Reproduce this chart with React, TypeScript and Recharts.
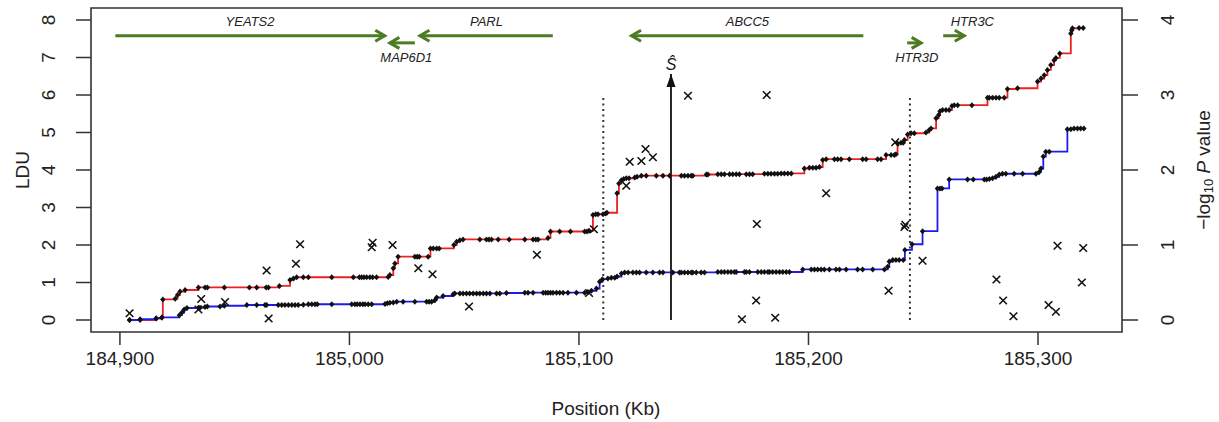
import React from 'react';
import { ComposedChart, Line, Scatter, XAxis, YAxis, ReferenceLine, ReferenceArea } from 'recharts';

// ---- data ----
const redPos = [184904.2,184908.8,184915.8,184918.3,184918.7,184924.1,184925.1,184926.2,184928.4,184934.2,184937.1,184938.1,184945.5,184956.4,184959.6,184963.7,184964.7,184969.5,184974.1,184975.6,184977.0,184979.9,184982.1,184992.3,185001.7,185004.3,185005.3,185006.3,185007.5,185008.9,185010.1,185011.8,185016.9,185017.6,185019.1,185019.8,185021.2,185028.5,185029.5,185030.4,185034.3,185035.3,185036.5,185038.0,185039.1,185045.5,185046.7,185048.1,185049.5,185056.8,185059.7,185060.8,185061.9,185064.8,185069.6,185076.4,185080.0,185081.2,185082.2,185086.5,185087.6,185091.6,185096.3,185102.5,185103.5,185104.4,185106.1,185107.3,185108.3,185110.5,185111.6,185112.2,185116.6,185117.4,185118.5,185119.5,185120.6,185121.8,185124.3,185125.3,185127.2,185129.3,185133.7,185136.6,185139.5,185144.6,185146.0,185147.5,185148.9,185149.6,185155.5,185156.2,185160.5,185162.0,185163.4,185165.6,185167.0,185168.5,185169.9,185172.9,185174.3,185175.7,185180.8,185182.3,185183.7,185185.2,185186.6,185188.1,185189.5,185191.0,185192.5,185198.2,185200.4,185201.9,185203.3,185204.8,185206.2,185207.7,185211.3,185212.7,185214.2,185217.8,185223.6,185225.1,185230.1,185231.6,185233.8,185236.0,185237.4,185238.1,185238.8,185240.3,185241.3,185241.8,185243.2,185244.7,185246.1,185251.2,185252.6,185253.4,185255.6,185256.7,185257.3,185258.4,185259.9,185261.3,185262.5,185263.5,185265.0,185271.2,185278.0,185278.8,185280.2,185281.7,185283.1,185285.3,185286.7,185291.1,185299.8,185301.3,185302.7,185304.1,185305.6,185307.0,185307.8,185309.5,185314.3,185314.7,185315.0,185317.9,185319.7];
const redLdu = [0,0,0.04,0.07,0.55,0.57,0.67,0.76,0.80,0.87,0.87,0.87,0.87,0.87,0.87,0.87,0.87,0.91,1.07,1.11,1.14,1.14,1.14,1.14,1.14,1.14,1.14,1.14,1.14,1.14,1.14,1.14,1.15,1.20,1.38,1.51,1.69,1.69,1.69,1.69,1.69,1.91,1.91,1.91,1.91,2.00,2.09,2.13,2.15,2.15,2.15,2.15,2.15,2.15,2.15,2.15,2.15,2.15,2.15,2.19,2.36,2.36,2.36,2.36,2.36,2.38,2.80,2.82,2.82,2.82,2.84,2.86,3.38,3.64,3.73,3.76,3.78,3.78,3.80,3.82,3.85,3.85,3.85,3.85,3.85,3.85,3.85,3.85,3.85,3.85,3.88,3.88,3.89,3.89,3.89,3.89,3.89,3.89,3.89,3.89,3.89,3.89,3.90,3.90,3.90,3.90,3.90,3.91,3.91,3.91,3.91,4.04,4.06,4.06,4.06,4.08,4.27,4.29,4.29,4.29,4.29,4.29,4.29,4.29,4.29,4.29,4.40,4.40,4.40,4.42,4.71,4.73,4.73,4.80,4.95,4.98,4.98,5.00,5.07,5.11,5.38,5.47,5.57,5.60,5.60,5.60,5.71,5.73,5.73,5.73,5.93,5.93,5.93,5.93,5.93,5.93,6.16,6.18,6.36,6.44,6.53,6.67,6.80,6.93,6.99,7.11,7.64,7.73,7.78,7.79,7.79];

const bluePos = [184904.2,184908.8,184915.8,184918.3,184925.9,184927.0,184928.0,184929.2,184934.2,184934.9,184937.1,184938.1,184943.6,184945.5,184955.3,184959.6,184963.2,184963.9,184969.0,184970.5,184971.9,184973.4,184974.9,184976.3,184977.7,184979.9,184982.1,184983.6,184985.0,184986.0,184992.3,185001.0,185002.4,185003.4,185004.6,185005.8,185006.8,185008.2,185009.7,185015.5,185016.5,185017.6,185019.1,185020.6,185023.4,185028.5,185033.6,185034.7,185035.8,185037.2,185038.0,185040.8,185045.2,185045.9,185048.1,185049.5,185051.0,185052.4,185053.9,185055.4,185056.8,185058.3,185059.7,185061.2,185064.1,185065.5,185068.4,185076.4,185077.8,185080.0,185084.4,185085.5,185086.5,185087.6,185088.7,185090.2,185091.6,185093.1,185095.2,185098.9,185102.5,185103.9,185105.4,185107.6,185109.0,185110.2,185112.6,185114.1,185115.6,185116.6,185118.5,185119.9,185121.4,185123.5,185125.0,185126.4,185129.3,185132.2,185135.1,185136.6,185140.9,185143.8,185144.6,185146.0,185147.5,185148.9,185149.6,185151.1,185153.2,185154.7,185160.5,185162.0,185163.4,185164.9,185166.3,185167.7,185168.5,185172.1,185172.9,185174.3,185177.9,185179.4,185180.8,185182.3,185183.0,185184.4,185185.9,185187.4,185188.8,185190.3,185191.7,185197.5,185201.2,185202.6,185204.0,185205.5,185206.9,185209.1,185212.0,185213.5,185216.4,185221.4,185223.6,185228.0,185233.1,185234.5,185235.2,185236.7,185238.1,185239.5,185241.3,185242.0,185245.1,185249.7,185256.2,185257.3,185258.2,185261.3,185269.3,185271.8,185276.6,185277.6,185278.8,185280.2,185281.7,185283.1,185284.5,185286.0,185289.6,185293.3,185299.1,185300.5,185301.3,185302.3,185303.4,185304.9,185312.8,185314.3,185315.7,185317.2,185318.6,185320.0];
const blueLdu = [0,0.02,0.05,0.07,0.13,0.20,0.28,0.32,0.33,0.33,0.35,0.36,0.36,0.38,0.40,0.40,0.40,0.40,0.40,0.40,0.40,0.40,0.40,0.40,0.40,0.41,0.42,0.42,0.42,0.42,0.42,0.42,0.42,0.42,0.42,0.42,0.42,0.42,0.42,0.43,0.45,0.46,0.47,0.49,0.49,0.49,0.49,0.49,0.49,0.53,0.60,0.64,0.69,0.71,0.71,0.71,0.71,0.71,0.71,0.71,0.71,0.71,0.71,0.71,0.71,0.71,0.72,0.73,0.73,0.73,0.73,0.73,0.73,0.73,0.73,0.73,0.73,0.73,0.73,0.73,0.73,0.75,0.78,0.84,1.02,1.09,1.11,1.13,1.13,1.16,1.24,1.27,1.27,1.27,1.27,1.27,1.27,1.27,1.27,1.27,1.27,1.27,1.27,1.27,1.27,1.27,1.27,1.27,1.27,1.27,1.28,1.28,1.28,1.28,1.28,1.28,1.28,1.28,1.28,1.28,1.28,1.28,1.28,1.28,1.28,1.28,1.28,1.28,1.28,1.28,1.28,1.35,1.35,1.35,1.35,1.35,1.35,1.35,1.35,1.35,1.35,1.35,1.35,1.35,1.35,1.42,1.56,1.60,1.60,1.60,1.60,1.87,2.02,2.37,3.51,3.51,3.51,3.75,3.75,3.75,3.75,3.75,3.76,3.78,3.82,3.88,3.90,3.90,3.90,3.90,3.90,3.95,4.04,4.36,4.49,4.49,5.09,5.09,5.11,5.11,5.11,5.11];

const snpPos = [184904.2,184934.2,184935.4,184945.8,184963.9,184964.8,184976.7,184978.5,185009.7,185010.1,185018.8,185030.0,185036.2,185052.1,185081.7,185104.4,185106.5,185120.6,185122.1,185127.2,185129.0,185132.2,185147.5,185171.0,185177.2,185177.5,185181.8,185185.5,185207.7,185234.9,185237.8,185241.8,185242.2,185249.7,185281.9,185284.8,185289.3,185304.6,185307.8,185308.5,185319.1,185319.7];
const snpLogP = [0.09,0.14,0.28,0.24,0.66,0.02,0.75,1.01,0.97,1.03,1.00,0.69,0.61,0.18,0.87,0.36,1.21,1.79,2.11,2.12,2.28,2.17,2.99,0.01,0.26,1.28,3.00,0.03,1.69,0.39,2.37,1.24,1.27,0.79,0.54,0.26,0.05,0.20,0.11,0.99,0.50,0.96];

const geneNames = ['YEATS2', 'MAP6D1', 'PARL', 'ABCC5', 'HTR3D', 'HTR3C'];
const geneFrom = [184898.0, 185028.5, 185088.6, 185223.9, 185243.0, 185258.7];
const geneTo = [185015.4, 185017.6, 185030.7, 185122.9, 185249.1, 185267.9];
const geneLabelAt = [184956.7, 185024.8, 185059.7, 185173.4, 185247.2, 185271.4];
const geneRow = [0, 1, 0, 0, 1, 0];

const intervalBounds = [185110.6, 185244.2];
const sHatPos = 185140.1;
const sHatTop = 6.56;
const intervalTop = 6.0;

const xTicks = [184900, 185000, 185100, 185200, 185300];
const lduTicks = [0, 1, 2, 3, 4, 5, 6, 7, 8];
const pTicks = [0, 1, 2, 3, 4];

// ---- layout / style ----
const xDomain = [184887.4, 185336.6];
const lduDomain = [-0.32, 8.32];
const pDomain = [-0.16, 4.16];
const rowLevel = [7.58, 7.39];
const rowLabel = [7.95, 7.01];
const FONT = '"Liberation Sans", Arial, Helvetica, sans-serif';
const GREEN = '#4b7b22';
const RED = '#ee2020';
const BLUE = '#1c1cf0';
const AX = '#333';

const redData = redPos.map((x, i) => ({ x, y: redLdu[i] }));
const blueData = bluePos.map((x, i) => ({ x, y: blueLdu[i] }));
const snpData = snpPos.map((x, i) => ({ x, y: snpLogP[i] }));
const geneLabelData = geneNames.map((name, i) => ({ x: geneLabelAt[i], y: rowLabel[geneRow[i]], name }));

const Diamond = (p: any) => {
  const { cx, cy, index } = p;
  if (cx == null || cy == null) return <g key={`e${index}`} />;
  return <path key={`d${index}`} d={`M${cx},${cy - 3}L${cx + 2.7},${cy}L${cx},${cy + 3}L${cx - 2.7},${cy}Z`} fill="#111" />;
};

const Cross = (p: any) => {
  const { cx, cy } = p;
  const s = 3.8;
  return (
    <g>
      <line x1={cx - s} y1={cy - s} x2={cx + s} y2={cy + s} stroke="#111" strokeWidth={1.6} />
      <line x1={cx - s} y1={cy + s} x2={cx + s} y2={cy - s} stroke="#111" strokeWidth={1.6} />
    </g>
  );
};

const GeneLabel = (p: any) => (
  <text x={p.cx} y={p.cy} textAnchor="middle" dominantBaseline="central" fontFamily={FONT} fontStyle="italic" fontSize={13} fill="#222">
    {p.payload.name}
  </text>
);

const makeArrowHead = (dir: number) => (p: any) => {
  const { cx, cy, index } = p;
  if (index !== 1) return <g key={`n${index}`} />;
  const L = 11;
  const dx = L * 0.866 * dir;
  const dy = L * 0.5;
  return (
    <polyline key={`a${index}`} points={`${cx - dx},${cy - dy} ${cx},${cy} ${cx - dx},${cy + dy}`} fill="none" stroke={GREEN} strokeWidth={3} strokeLinejoin="miter" />
  );
};

const SHatHead = (p: any) => {
  const { cx, cy, index } = p;
  if (index !== 1) return <g key={`n${index}`} />;
  return (
    <g key="shat">
      <path d={`M${cx},${cy}L${cx + 4.5},${cy + 13}L${cx - 4.5},${cy + 13}Z`} fill="#111" />
      <text x={cx} y={cy - 4} textAnchor="middle" fontFamily={FONT} fontStyle="italic" fontSize={16} fill="#111">Ŝ</text>
    </g>
  );
};

const XTick = (p: any) => (
  <text x={p.x} y={358} textAnchor="middle" dominantBaseline="central" fontFamily={FONT} fontSize={19} fill="#222">
    {Number(p.payload.value).toLocaleString('en-US')}
  </text>
);

const LeftTick = (p: any) => (
  <text x={48} y={p.y} transform={`rotate(-90, 48, ${p.y})`} textAnchor="middle" dominantBaseline="central" fontFamily={FONT} fontSize={19} fill="#222">
    {p.payload.value}
  </text>
);

const RightTick = (p: any) => (
  <text x={1167} y={p.y} transform={`rotate(-90, 1167, ${p.y})`} textAnchor="middle" dominantBaseline="central" fontFamily={FONT} fontSize={19} fill="#222">
    {p.payload.value}
  </text>
);

export default function App() {
  return (
    <div style={{ position: 'absolute', left: 0, top: 0, background: '#fff' }}>
      <ComposedChart width={1219} height={422} margin={{ top: 8, right: 0, bottom: 0, left: 0 }}>
        <XAxis dataKey="x" type="number" domain={xDomain} allowDataOverflow ticks={xTicks} height={90} tickSize={13}
          axisLine={false} tickLine={{ stroke: AX, strokeWidth: 1.5 }} tick={<XTick />} interval={0} />
        <YAxis yAxisId="ldu" orientation="left" type="number" domain={lduDomain} allowDataOverflow ticks={lduTicks} width={91}
          tickSize={15} axisLine={false} tickLine={{ stroke: AX, strokeWidth: 1.5 }} tick={<LeftTick />} interval={0} />
        <YAxis yAxisId="p" orientation="right" type="number" domain={pDomain} allowDataOverflow ticks={pTicks} width={97}
          tickSize={16} axisLine={false} tickLine={{ stroke: AX, strokeWidth: 1.5 }} tick={<RightTick />} interval={0} />

        <ReferenceArea yAxisId="ldu" x1={xDomain[0]} x2={xDomain[1]} y1={lduDomain[0]} y2={lduDomain[1]} fill="none" fillOpacity={0}
          stroke={AX} strokeWidth={1.6} ifOverflow="visible" />

        {intervalBounds.map((b) => (
          <ReferenceLine key={b} yAxisId="ldu" segment={[{ x: b, y: 0 }, { x: b, y: intervalTop }]} stroke={AX} strokeWidth={2}
            strokeDasharray="2 3.5" ifOverflow="visible" />
        ))}

        {geneNames.map((g, i) => {
          const lvl = rowLevel[geneRow[i]];
          const dir = geneTo[i] > geneFrom[i] ? 1 : -1;
          return (
            <Line key={g} data={[{ x: geneFrom[i], y: lvl }, { x: geneTo[i], y: lvl }]} dataKey="y" yAxisId="ldu" type="linear"
              stroke={GREEN} strokeWidth={3} dot={makeArrowHead(dir)} activeDot={false} isAnimationActive={false} />
          );
        })}
        <Scatter data={geneLabelData} dataKey="y" yAxisId="ldu" shape={<GeneLabel />} isAnimationActive={false} />

        <Line data={[{ x: sHatPos, y: 0 }, { x: sHatPos, y: sHatTop }]} dataKey="y" yAxisId="ldu" type="linear" stroke="#111"
          strokeWidth={1.8} dot={SHatHead} activeDot={false} isAnimationActive={false} />

        <Line data={redData} dataKey="y" yAxisId="ldu" type="stepAfter" stroke={RED} strokeWidth={1.8} dot={Diamond}
          activeDot={false} isAnimationActive={false} />
        <Line data={blueData} dataKey="y" yAxisId="ldu" type="stepAfter" stroke={BLUE} strokeWidth={1.8} dot={Diamond}
          activeDot={false} isAnimationActive={false} />

        <Scatter data={snpData} dataKey="y" yAxisId="p" shape={<Cross />} isAnimationActive={false} />

        <text x={22} y={170} transform="rotate(-90, 22, 170)" textAnchor="middle" dominantBaseline="central" fontFamily={FONT} fontSize={19} fill="#222">LDU</text>
        <text x={606} y={408} textAnchor="middle" dominantBaseline="central" fontFamily={FONT} fontSize={19} fill="#222">Position (Kb)</text>
        <text x={1203} y={170} transform="rotate(-90, 1203, 170)" textAnchor="middle" dominantBaseline="central" fontFamily={FONT} fontSize={19} fill="#222">
          <tspan>−log</tspan>
          <tspan fontSize={13} dy={5}>10</tspan>
          <tspan dy={-5} fontStyle="italic"> P</tspan>
          <tspan> value</tspan>
        </text>
      </ComposedChart>
    </div>
  );
}
